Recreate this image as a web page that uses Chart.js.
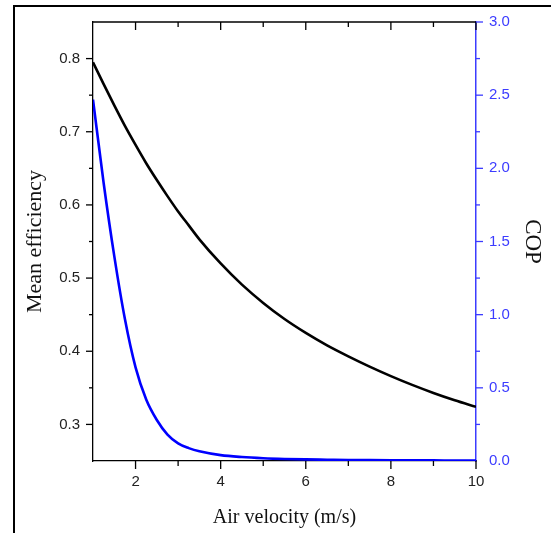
<!DOCTYPE html>
<html>
<head>
<meta charset="utf-8">
<script src="https://cdn.jsdelivr.net/npm/chart.js@4.4.1/dist/chart.umd.min.js"></script>
<style>
  body { margin: 0; background: #fff; }
  #wrap { position: relative; width: 551px; height: 533px; }
  #frame { position: absolute; left: 13px; top: 5px; width: 600px; height: 600px;
           border-left: 2px solid #000; border-top: 2px solid #000; pointer-events: none; }
</style>
</head>
<body>
<div id="wrap">
  <canvas id="myChart" width="551" height="533"></canvas>
  <div id="frame"></div>
</div>
<script>
// air velocity (m/s)
const velocity = [1, 1.25, 1.5, 1.75, 2, 2.25, 2.5, 2.75, 3, 3.25, 3.5, 4, 4.5, 5, 5.5, 6, 6.5, 7, 7.5, 8, 8.5, 9, 9.5, 10];
// mean efficiency (left axis)
const efficiency = [0.795, 0.765, 0.736, 0.708, 0.682, 0.657, 0.634, 0.612, 0.591, 0.572, 0.553, 0.520, 0.491, 0.466, 0.444, 0.425, 0.408, 0.393, 0.379, 0.366, 0.354, 0.343, 0.333, 0.324];
// COP (right axis)
const cop = [2.47, 1.90, 1.40, 0.97, 0.64, 0.42, 0.28, 0.18, 0.12, 0.088, 0.066, 0.04, 0.027, 0.019, 0.014, 0.011, 0.009, 0.007, 0.006, 0.005, 0.004, 0.004, 0.003, 0.003];

const xTicks = [2, 4, 6, 8, 10];
const effTicks = [0.3, 0.4, 0.5, 0.6, 0.7, 0.8];
const copTicks = [0, 0.5, 1.0, 1.5, 2.0, 2.5, 3.0];

const blue = '#3c3cff';
const tickFont = { family: '"Liberation Sans", Arial, sans-serif', size: 15 };
const titleFont = { family: '"Liberation Serif", "Times New Roman", serif', size: 20 };

// little ticks all round the plot box (major + minor)
const boxTicks = {
  id: 'boxTicks',
  afterDraw(chart) {
    const c = chart.ctx;
    const area = chart.chartArea;
    const x = chart.scales.x, y = chart.scales.y, y2 = chart.scales.y2;
    c.save();
    c.lineWidth = 1.3;
    c.strokeStyle = '#000';
    c.beginPath();
    c.moveTo(area.left, area.top);
    c.lineTo(area.right, area.top);
    c.stroke();
    for (let v = 2; v <= 10; v++) {
      const px = x.getPixelForValue(v);
      const len = v % 2 == 0 ? 8 : 5;
      c.beginPath();
      c.moveTo(px, area.bottom); c.lineTo(px, area.bottom + len);
      c.moveTo(px, area.top); c.lineTo(px, area.top + len);
      c.stroke();
    }
    for (let i = 6; i <= 16; i++) {
      const py = y.getPixelForValue(i * 0.05);
      const len = i % 2 == 0 ? 7 : 4;
      c.beginPath();
      c.moveTo(area.left, py); c.lineTo(area.left - len, py);
      c.stroke();
    }
    c.strokeStyle = blue;
    for (let i = 1; i <= 12; i++) {
      const py = y2.getPixelForValue(i * 0.25);
      const len = i % 2 == 0 ? 7 : 4;
      c.beginPath();
      c.moveTo(area.right, py); c.lineTo(area.right + len, py);
      c.stroke();
    }
    c.restore();
  }
};

const ctx = document.getElementById('myChart').getContext('2d');
const myChart = new Chart(ctx, {
  type: 'line',
  data: {
    labels: velocity,
    datasets: [{
      label: 'Mean efficiency',
      data: velocity.map((v, i) => ({ x: v, y: efficiency[i] })),
      borderColor: '#000',
      borderWidth: 2.6,
      pointRadius: 0,
      cubicInterpolationMode: 'monotone',
      yAxisID: 'y'
    }, {
      label: 'COP',
      data: velocity.map((v, i) => ({ x: v, y: cop[i] })),
      borderColor: '#0000ff',
      borderWidth: 2.6,
      pointRadius: 0,
      cubicInterpolationMode: 'monotone',
      yAxisID: 'y2'
    }]
  },
  options: {
    responsive: false,
    animation: false,
    layout: { padding: { top: 21, left: 0, right: 0, bottom: 0 } },
    plugins: {
      legend: { display: false },
      tooltip: { enabled: false }
    },
    scales: {
      x: {
        type: 'linear',
        min: 1,
        max: 10,
        afterBuildTicks: (s) => { s.ticks = xTicks.map(v => ({ value: v })); },
        afterFit: (s) => { s.height = 72; },
        grid: { display: false, drawTicks: false },
        border: { display: true, color: '#000', width: 1.3 },
        ticks: { color: '#222', font: tickFont, padding: 12, maxRotation: 0 },
        title: { display: true, text: 'Air velocity (m/s)', color: '#111', font: titleFont, padding: { top: 0, bottom: 3 } }
      },
      y: {
        position: 'left',
        min: 0.25,
        max: 0.85,
        afterBuildTicks: (s) => { s.ticks = effTicks.map(v => ({ value: v })); },
        afterFit: (s) => { s.width = 93; },
        grid: { display: false, drawTicks: false },
        border: { display: true, color: '#000', width: 1.3 },
        ticks: { color: '#222', font: tickFont, padding: 13, callback: (v) => v.toFixed(1) },
        title: { display: true, text: 'Mean efficiency', color: '#111', font: { family: titleFont.family, size: 22 }, padding: { top: 22, bottom: 0 } }
      },
      y2: {
        position: 'right',
        min: 0,
        max: 3,
        afterBuildTicks: (s) => { s.ticks = copTicks.map(v => ({ value: v })); },
        afterFit: (s) => { s.width = 75; },
        grid: { display: false, drawTicks: false },
        border: { display: true, color: blue, width: 1.5 },
        ticks: { color: blue, font: tickFont, padding: 13, callback: (v) => v.toFixed(1) },
        title: { display: true, text: 'COP', color: '#111', font: { family: titleFont.family, size: 23 }, padding: { top: 5, bottom: 0 } }
      }
    }
  },
  plugins: [boxTicks]
});
</script>
</body>
</html>
